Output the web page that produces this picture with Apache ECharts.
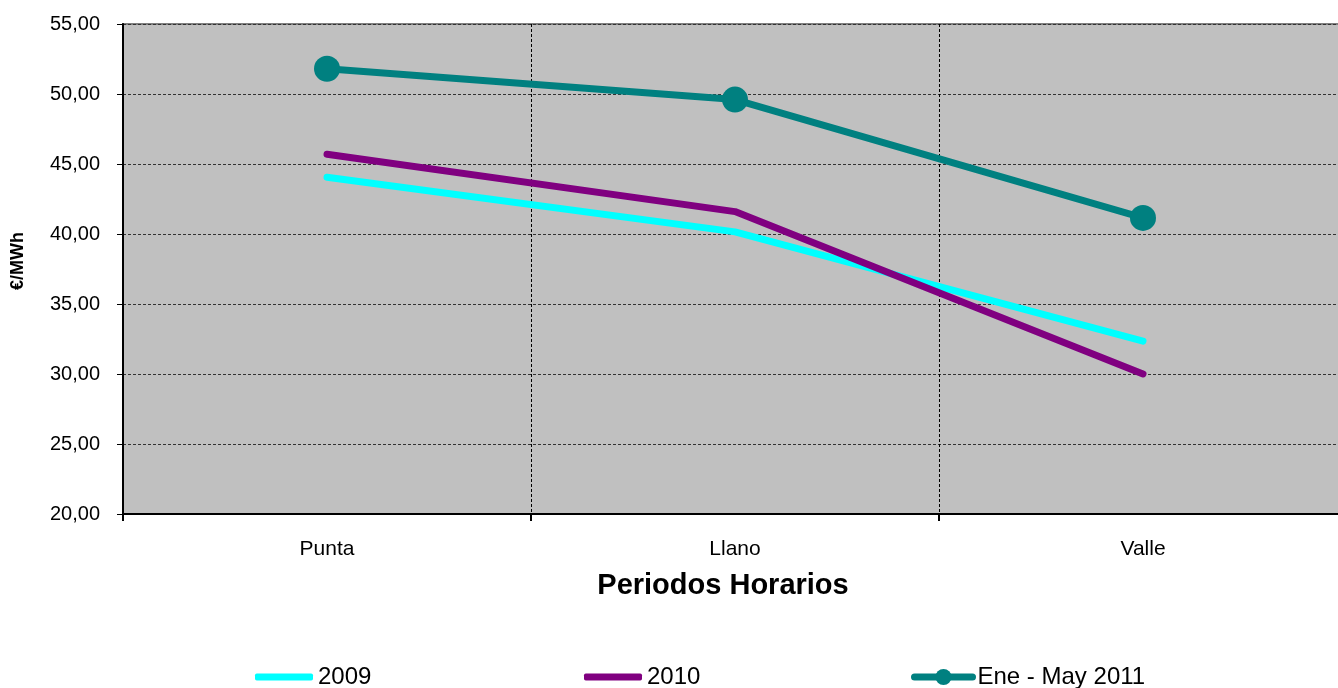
<!DOCTYPE html>
<html>
<head>
<meta charset="utf-8">
<script src="https://cdn.jsdelivr.net/npm/echarts@6/dist/echarts.min.js"></script>
<style>
html,body{margin:0;padding:0;background:#fff;overflow:hidden;}
#chart{width:1347px;height:688px;}
</style>
</head>
<body>
<div id="chart"></div>
<script>
const categories = ['Punta', 'Llano', 'Valle'];
const seriesNames = ['2009', '2010', 'Ene - May 2011'];
const values2009 = [44.05, 40.15, 32.35];
const values2010 = [45.7, 41.6, 30.0];
const values2011 = [51.8, 49.6, 41.15];
const yTicks = { min: 20, max: 55, interval: 5 };
const yAxisName = '€/MWh';
const xAxisName = 'Periodos Horarios';

const font = '"Liberation Sans", Arial, sans-serif';
const chart = echarts.init(document.getElementById('chart'));

function legendFor(name, left, plain) {
  const l = {
    data: [plain ? { name: name, icon: 'roundRect' } : name],
    left: left, top: 665, padding: 0, itemWidth: 58, itemHeight: plain ? 7 : 20,
    textStyle: { fontFamily: font, fontSize: 24, color: '#000' },
    selectedMode: false
  };
  if (!plain) l.lineStyle = { width: 7, cap: 'round' };
  return l;
}

chart.setOption({
  animation: false,
  backgroundColor: '#fff',
  grid: { left: 123, top: 24, right: 0, height: 490, show: true, containLabel: false,
          backgroundColor: '#C0C0C0', borderColor: '#808080', borderWidth: 2 },
  legend: [legendFor(seriesNames[0], 255, true), legendFor(seriesNames[1], 584, true), legendFor(seriesNames[2], 911, false)],
  xAxis: {
    type: 'category', data: categories, boundaryGap: true,
    name: xAxisName, nameLocation: 'middle', nameGap: 57,
    nameTextStyle: { fontFamily: font, fontSize: 29, fontWeight: 'bold', color: '#000', padding: [0, 24, 0, 0] },
    axisLine: { show: true, lineStyle: { color: '#000', width: 2 } },
    axisTick: { show: true, length: 7, lineStyle: { color: '#000', width: 2 } },
    axisLabel: { fontFamily: font, fontSize: 21, color: '#000', margin: 25 },
    splitLine: { show: true, lineStyle: { color: '#000', type: [3, 2], width: 1 } }
  },
  yAxis: {
    type: 'value', min: yTicks.min, max: yTicks.max, interval: yTicks.interval,
    name: yAxisName, nameLocation: 'middle', nameGap: 96,
    nameTextStyle: { fontFamily: font, fontSize: 18, fontWeight: 'bold', color: '#000', padding: [0, 0, 0, 16] },
    axisLine: { show: true, lineStyle: { color: '#000', width: 2 } },
    axisTick: { show: true, length: 6, lineStyle: { color: '#000', width: 1 } },
    axisLabel: { fontFamily: font, fontSize: 20, color: '#000', margin: 23,
                 formatter: v => v.toFixed(2).replace('.', ',') },
    splitLine: { show: true, lineStyle: { color: '#333', type: [3, 2], width: 1 } }
  },
  series: [
    { name: seriesNames[0], type: 'line', data: values2009, symbol: 'none',
      itemStyle: { color: '#00FFFF' }, lineStyle: { color: '#00FFFF', width: 7, cap: 'round' } },
    { name: seriesNames[1], type: 'line', data: values2010, symbol: 'none',
      itemStyle: { color: '#800080' }, lineStyle: { color: '#800080', width: 7, cap: 'round' } },
    { name: seriesNames[2], type: 'line', data: values2011, symbol: 'circle', symbolSize: 26,
      itemStyle: { color: '#008080' }, lineStyle: { color: '#008080', width: 7, cap: 'round' } }
  ]
});
</script>
</body>
</html>
